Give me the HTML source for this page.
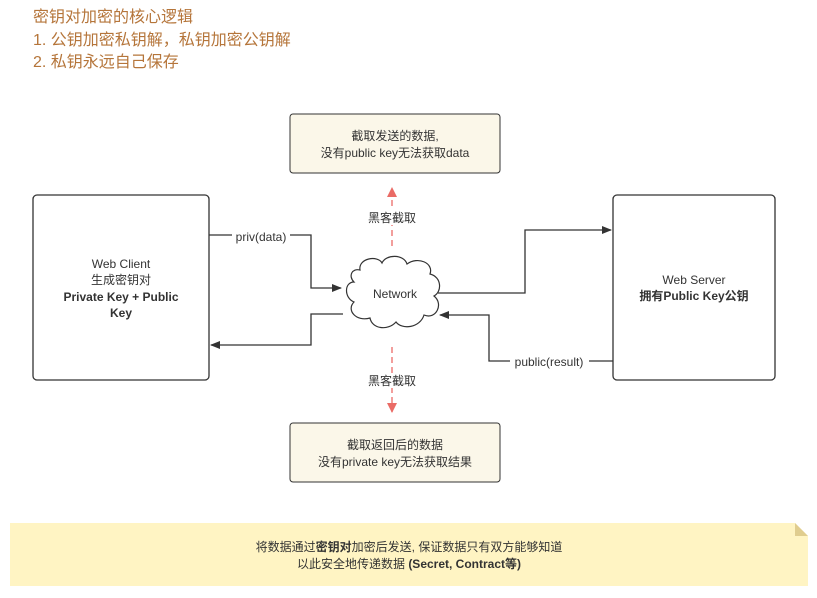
<!DOCTYPE html>
<html><head><meta charset="utf-8"><style>
body{margin:0;background:#fff;}
svg text{font-family:"Liberation Sans","Noto Sans CJK SC",sans-serif;}
</style></head><body>
<svg width="817" height="593" viewBox="0 0 817 593" xmlns="http://www.w3.org/2000/svg">
<defs>
<marker id="a" markerWidth="10" markerHeight="8" refX="9" refY="4" orient="auto" markerUnits="userSpaceOnUse"><path d="M0,0 L10,4 L0,8 Z" fill="#333"/></marker>
<marker id="r" markerWidth="10" markerHeight="10" refX="9" refY="5" orient="auto" markerUnits="userSpaceOnUse"><path d="M0,0 L10,5 L0,10 Z" fill="#ea6b66"/></marker>
</defs>
<g fill="#b5753a" font-size="16">
<text x="33" y="22">密钥对加密的核心逻辑</text>
<text x="33" y="45">1. 公钥加密私钥解，私钥加密公钥解</text>
<text x="33" y="67">2. 私钥永远自己保存</text>
</g>
<rect x="33" y="195" width="176" height="185" rx="4" fill="#fff" stroke="#333" stroke-width="1.3"/>
<g font-size="12" text-anchor="middle" fill="#333">
<text x="121" y="268">Web Client</text>
<text x="121" y="284">生成密钥对</text>
<text x="121" y="301" font-weight="bold">Private Key + Public</text>
<text x="121" y="317" font-weight="bold">Key</text>
</g>
<rect x="613" y="195" width="162" height="185" rx="4" fill="#fff" stroke="#333" stroke-width="1.3"/>
<g font-size="12" text-anchor="middle" fill="#333">
<text x="694" y="284">Web Server</text>
<text x="694" y="300" font-weight="bold">拥有Public Key公钥</text>
</g>
<rect x="290" y="114" width="210" height="59" rx="3" fill="#fbf7e9" stroke="#333" stroke-width="1"/>
<g font-size="12" text-anchor="middle" fill="#333">
<text x="395" y="140">截取发送的数据,</text>
<text x="395" y="157">没有public key无法获取data</text>
</g>
<rect x="290" y="423" width="210" height="59" rx="3" fill="#fbf7e9" stroke="#333" stroke-width="1"/>
<g font-size="12" text-anchor="middle" fill="#333">
<text x="395" y="449">截取返回后的数据</text>
<text x="395" y="466">没有private key无法获取结果</text>
</g>
<path d="M10,523 H795 L808,536 V586 H10 Z" fill="#fff4c3" stroke="none"/>
<path d="M795,523 V536 H808 Z" fill="#e0cd8f"/>
<g font-size="12" text-anchor="middle" fill="#333">
<text x="409" y="551">将数据通过<tspan font-weight="bold">密钥对</tspan>加密后发送, 保证数据只有双方能够知道</text>
<text x="409" y="568">以此安全地传递数据 <tspan font-weight="bold">(Secret, Contract等)</tspan></text>
</g>
<path d="M360,270 C358,258 378,255 382,263 C386,254 404,254 407,264 C418,256 434,263 430,274 C442,277 442,292 434,296 C444,304 436,320 424,315 C420,328 402,330 396,322 C388,331 372,329 370,318 C356,322 346,310 354,302 C344,298 344,282 354,282 C348,276 352,268 360,270 Z" fill="#fff" stroke="#333" stroke-width="1.2"/>
<text x="395" y="298" font-size="12" text-anchor="middle" fill="#333">Network</text>
<g stroke="#333" stroke-width="1.3" fill="none">
<path d="M209,235 H311 V288 H341" marker-end="url(#a)"/>
<path d="M343,314 H311 V345 H211" marker-end="url(#a)"/>
<path d="M438,293 H525 V230 H611" marker-end="url(#a)"/>
<path d="M613,361 H489 V315 H440" marker-end="url(#a)"/>
</g>
<rect x="232" y="228" width="58" height="16" fill="#fff"/>
<text x="261" y="241" font-size="12" text-anchor="middle" fill="#333">priv(data)</text>
<rect x="510" y="354" width="79" height="16" fill="#fff"/>
<text x="549" y="366" font-size="12" text-anchor="middle" fill="#333">public(result)</text>
<g stroke="#ea6b66" stroke-width="1.3" stroke-dasharray="6,4" fill="none">
<path d="M392,246 V188" marker-end="url(#r)"/>
<path d="M392,347 V412" marker-end="url(#r)"/>
</g>
<rect x="366" y="210" width="52" height="15" fill="#fff"/>
<text x="392" y="222" font-size="12" text-anchor="middle" fill="#333">黑客截取</text>
<rect x="366" y="373" width="52" height="15" fill="#fff"/>
<text x="392" y="385" font-size="12" text-anchor="middle" fill="#333">黑客截取</text>
</svg>
</body></html>
